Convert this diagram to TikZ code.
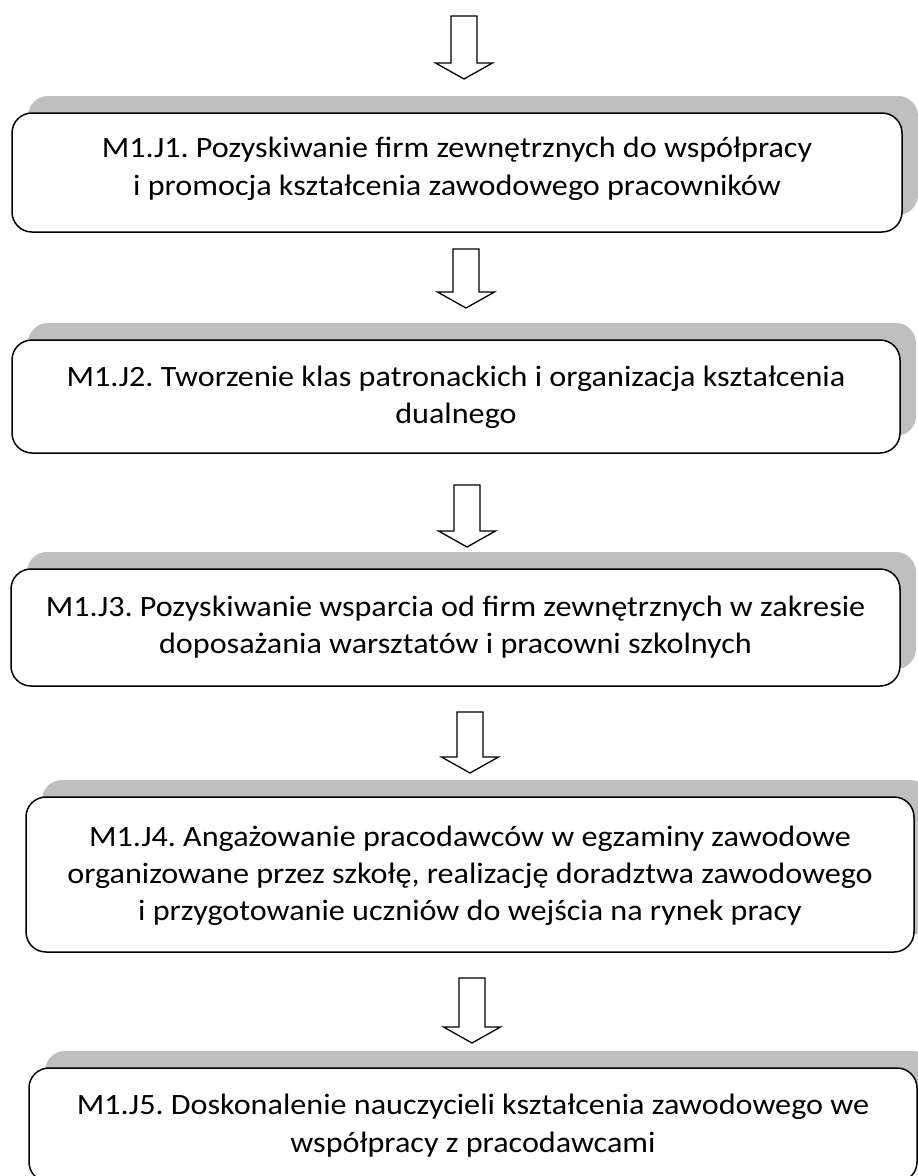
\documentclass[tikz,border=0pt]{standalone}
\usepackage{fontspec}
\setmainfont[FakeStretch=1.09]{Carlito}
\frenchspacing
\usetikzlibrary{shadows}
\definecolor{shadowgray}{HTML}{BFBFBF}
\tikzset{
  stagebox/.style={draw=black, line width=1.5pt, fill=white, rounded corners=20pt,
    inner sep=0pt,
    drop shadow={shadow xshift=16pt, shadow yshift=17pt, fill=shadowgray, opacity=1, draw=none}},
  stagetext/.style={align=center, inner sep=0pt, font=\fontsize{29.5pt}{37.3pt}\selectfont},
  blockarrow/.style={draw=black, line width=1.3pt, fill=white, line join=miter}
}
\newcommand\downblock[4]{% name, x, ytop, ybottom
  \coordinate (#1) at (#2,#4);
  \draw[blockarrow] (#2-13,#3) -- (#2+13,#3) -- (#2+13,#4-16) -- (#2+28.5,#4-16)
     -- (#1) -- (#2-28.5,#4-16) -- (#2-13,#4-16) -- cycle;}
\begin{document}
\begin{tikzpicture}[x=1pt,y=-1pt]
\useasboundingbox (0,0) rectangle (918,1176);
\downblock{a1}{464}{16}{79}
\node[stagebox, minimum width=890pt, minimum height=119pt] (b1) at (457,172.5) {};
\node[stagetext] (t1) at (457,168.9)
  {M1.J1. Pozyskiwanie firm zewnętrznych do współpracy\\i promocja kształcenia zawodowego pracowników};
\downblock{a2}{466}{249}{308}
\node[stagebox, minimum width=888pt, minimum height=113pt] (b2) at (456,396.5) {};
\node[stagetext] (t2) at (456,397.2)
  {M1.J2. Tworzenie klas patronackich i organizacja kształcenia\\dualnego};
\downblock{a3}{467}{485}{547}
\node[stagebox, minimum width=889pt, minimum height=117pt] (b3) at (455.5,627.5) {};
\node[stagetext] (t3) at (455.5,627.4)
  {M1.J3. Pozyskiwanie wsparcia od firm zewnętrznych w zakresie\\doposażania warsztatów i pracowni szkolnych};
\downblock{a4}{470}{712}{773}
\node[stagebox, minimum width=888pt, minimum height=155pt] (b4) at (470,874.5) {};
\node[stagetext] (t4) at (470,875.9)
  {M1.J4. Angażowanie pracodawców w egzaminy zawodowe\\organizowane przez szkołę, realizację doradztwa zawodowego\\i przygotowanie uczniów do wejścia na rynek pracy};
\downblock{a5}{472}{978}{1043}
\node[stagebox, minimum width=888pt, minimum height=114pt] (b5) at (473,1125) {};
\node[stagetext] (t5) at (473,1125.6)
  {M1.J5. Doskonalenie nauczycieli kształcenia zawodowego we\\współpracy z pracodawcami};
\end{tikzpicture}
\end{document}
